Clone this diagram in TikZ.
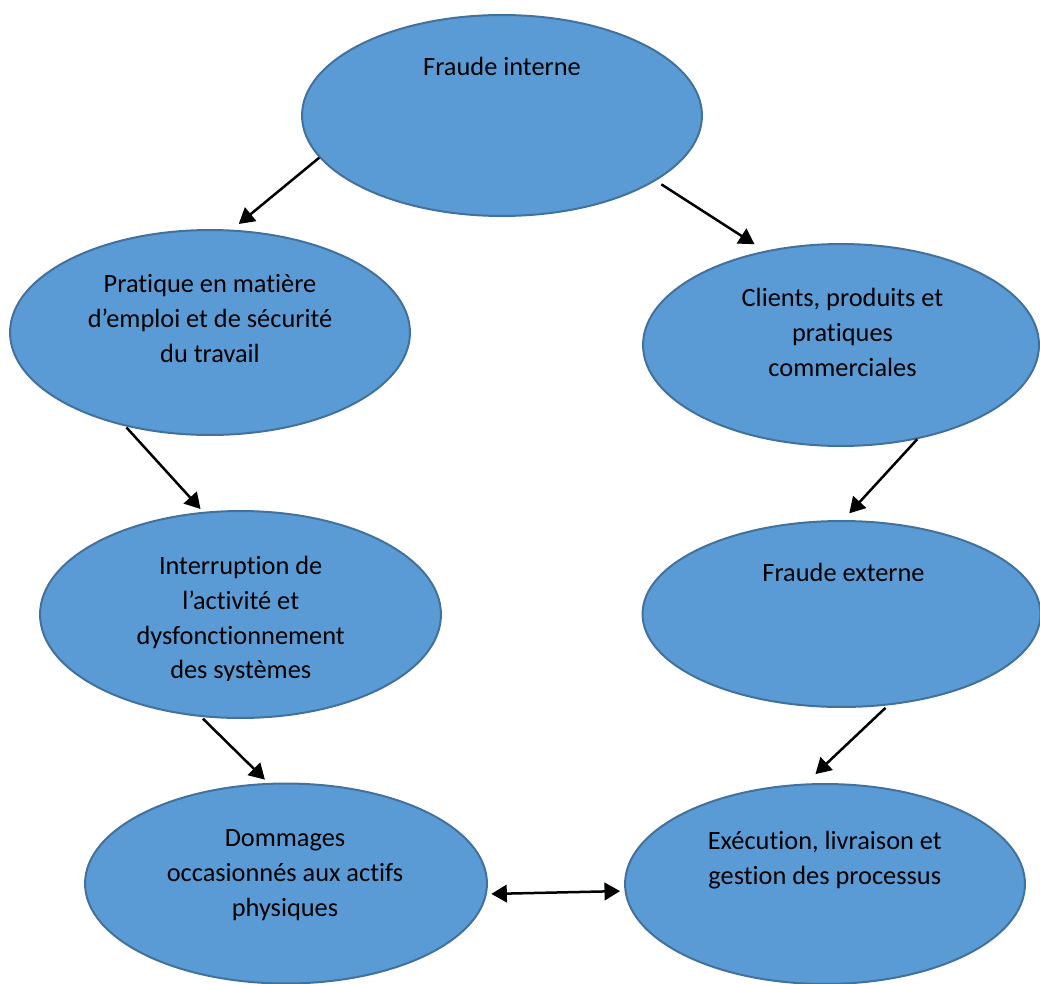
\documentclass[tikz,border=0pt]{standalone}
\usepackage{fontspec}
\setmainfont{Carlito}[Ligatures=NoCommon]
\usetikzlibrary{arrows.meta,shapes.geometric}
\definecolor{bubblefill}{HTML}{5B9BD5}
\definecolor{bubbleline}{HTML}{41719C}
\begin{document}
\begin{tikzpicture}[x=0.02cm,y=-0.02cm,
  bubble/.style={ellipse,draw=bubbleline,line width=0.04cm,fill=bubblefill,inner sep=0pt},
  caption/.style={inner sep=0pt,align=center,text=black,font=\fontsize{15}{19.9}\selectfont},
  link/.style={line width=0.05cm,-{Triangle[length=0.31cm,width=0.35cm]}},
  twoway/.style={line width=0.05cm,{Triangle[length=0.31cm,width=0.35cm]}-{Triangle[length=0.31cm,width=0.35cm]}}]
\useasboundingbox (0,0) rectangle (1040,983);

% the seven risk categories
\node[bubble,minimum width=8cm,minimum height=4.02cm] (fint) at (502,115.5) {};
\node[bubble,minimum width=8cm,minimum height=4.1cm] (prat) at (210,332.5) {};
\node[bubble,minimum width=7.92cm,minimum height=4.04cm] (cli) at (841,345) {};
\node[bubble,minimum width=8.02cm,minimum height=4.14cm] (intr) at (240.5,614.5) {};
\node[bubble,minimum width=7.96cm,minimum height=3.72cm] (fext) at (841.5,614) {};
\node[bubble,minimum width=8.04cm,minimum height=4cm] (dom) at (286,883.5) {};
\node[bubble,minimum width=8cm,minimum height=4cm] (exec) at (825,884) {};

% their captions
\node[caption] (tfint) at (502,66.8) {Fraude interne};
\node[caption] (tprat) at (210,318.9) {Pratique en matière\\d’emploi et de sécurité\\du travail};
\node[caption] (tcli) at (842.5,332.5) {Clients, produits et\\pratiques\\commerciales};
\begin{scope}
  \clip (0,0) rectangle (1040,680);
  \node[caption] (tintr) at (240.7,619.5) {Interruption de\\l’activité et\\dysfonctionnement\\des systèmes};
\end{scope}
\node[caption] (tfext) at (843.5,572.4) {Fraude externe};
\node[caption] (tdom) at (285,875.5) {Dommages\\occasionnés aux actifs\\physiques};
\node[caption] (texec) at (824.8,860.2) {Exécution, livraison et\\gestion des processus};

% links between categories
\draw[link,shorten >=0.178cm] (fint.193.4) -- (prat.78.9);
\draw[link,shorten <=0.132cm,shorten >=0.242cm] (fint.337.6) -- (cli.129.1);
\draw[link,shorten <=0.03cm,shorten >=0.078cm] (prat.228) -- (intr.110.8);
\draw[link,shorten >=0.182cm] (cli.309.6) -- (fext.89.6);
\draw[link,shorten <=0.05cm,shorten >=0.094cm] (intr.249.9) -- (dom.100.1);
\draw[link,shorten <=0.072cm,shorten >=0.274cm] (fext.297) -- (exec.101.7);
\draw[twoway,shorten <=0.09cm,shorten >=0.09cm] (dom.357.4) -- (exec.182.9);
\end{tikzpicture}
\end{document}
